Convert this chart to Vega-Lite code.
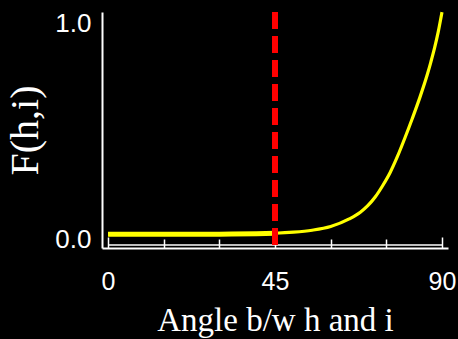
{
  "$schema": "https://vega.github.io/schema/vega-lite/v6.json",
  "width": 346,
  "height": 236,
  "autosize": {"type": "none"},
  "padding": {"left": 102, "top": 12, "right": 10, "bottom": 91},
  "background": "black",
  "config": {"view": {"stroke": null}},
  "datasets": {
    "curve": [
      {"angle": 0, "F": 0.026},
      {"angle": 10, "F": 0.026},
      {"angle": 20, "F": 0.026},
      {"angle": 30, "F": 0.027},
      {"angle": 40, "F": 0.029},
      {"angle": 45, "F": 0.031},
      {"angle": 50, "F": 0.036},
      {"angle": 55, "F": 0.045},
      {"angle": 60, "F": 0.062},
      {"angle": 65, "F": 0.097},
      {"angle": 68, "F": 0.128},
      {"angle": 70, "F": 0.158},
      {"angle": 72, "F": 0.198},
      {"angle": 74, "F": 0.25},
      {"angle": 76, "F": 0.31},
      {"angle": 78, "F": 0.385},
      {"angle": 80, "F": 0.47},
      {"angle": 82, "F": 0.56},
      {"angle": 84, "F": 0.655},
      {"angle": 86, "F": 0.76},
      {"angle": 87, "F": 0.82},
      {"angle": 88, "F": 0.885},
      {"angle": 89, "F": 0.96},
      {"angle": 90, "F": 1.05}
    ],
    "marker": [{"angle": 45}],
    "bracket": [{"x0": 0, "x1": 90, "y": -0.0235}]
  },
  "layer": [
    {
      "data": {"name": "bracket"},
      "mark": {"type": "rule", "color": "white", "strokeWidth": 1.5},
      "encoding": {
        "x": {"field": "x0", "type": "quantitative", "scale": {"domain": [-1.62, 91.62], "nice": false, "zero": false},
          "axis": {
            "values": [0, 15, 30, 45, 60, 75, 90],
            "labelExpr": "datum.value % 45 == 0 ? datum.label : ''",
            "labelOverlap": false,
            "grid": false,
            "domainColor": "white",
            "domainWidth": 2,
            "tickColor": "white",
            "tickWidth": 1.5,
            "tickSize": {"condition": {"test": "datum.value % 45 == 0", "value": -11}, "value": -9},
            "labelColor": "white",
            "labelFont": "Liberation Sans",
            "labelFontSize": 25,
            "labelPadding": 32,
            "title": "Angle b/w h and i",
            "titleFont": "Liberation Serif",
            "titleFontSize": 33,
            "titleFontWeight": "normal",
            "titleColor": "white",
            "titlePadding": 8
          }
        },
        "x2": {"field": "x1"},
        "y": {"field": "y", "type": "quantitative", "scale": {"domain": [-0.0369, 1.0507], "nice": false, "zero": false},
          "axis": {
            "values": [0, 1],
            "format": ".1f",
            "grid": false,
            "ticks": false,
            "domainColor": "white",
            "domainWidth": 2,
            "labelColor": "white",
            "labelFont": "Liberation Sans",
            "labelFontSize": 26,
            "labelPadding": 11,
            "title": "F(h,i)",
            "titleFont": "Liberation Serif",
            "titleFontSize": 40,
            "titleFontWeight": "normal",
            "titleColor": "white",
            "titlePadding": 9
          }
        }
      }
    },
    {
      "data": {"name": "curve"},
      "mark": {"type": "line", "color": "#ffff00", "strokeWidth": 3.2, "interpolate": "monotone"},
      "encoding": {
        "x": {"field": "angle", "type": "quantitative"},
        "y": {"field": "F", "type": "quantitative"}
      }
    },
    {
      "data": {"name": "curve"},
      "transform": [{"filter": "datum.angle <= 45"}],
      "mark": {"type": "line", "color": "#ffff00", "strokeWidth": 5, "interpolate": "monotone"},
      "encoding": {
        "x": {"field": "angle", "type": "quantitative"},
        "y": {"field": "F", "type": "quantitative"}
      }
    },
    {
      "data": {"name": "marker"},
      "mark": {"type": "rule", "color": "#ff0000", "strokeWidth": 6, "strokeDash": [17, 7]},
      "encoding": {
        "x": {"field": "angle", "type": "quantitative"}
      }
    }
  ]
}
